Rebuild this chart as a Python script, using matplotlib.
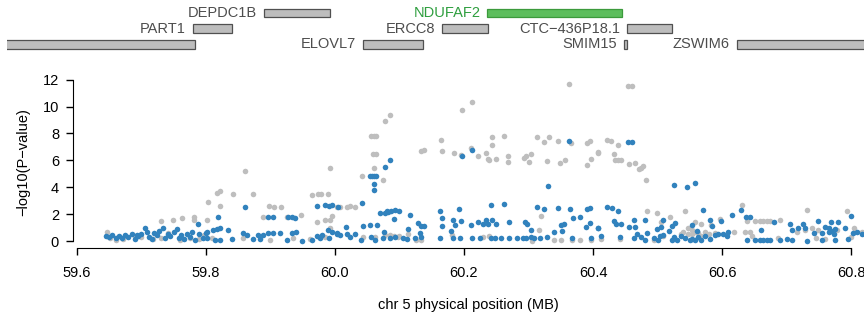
import numpy as np
import matplotlib
matplotlib.use("Agg")
import matplotlib.pyplot as plt
from matplotlib.patches import Rectangle

plt.rcParams["font.family"] = ["Liberation Sans", "DejaVu Sans"]

# genes in the locus (MB)
gene_names = ["DEPDC1B", "NDUFAF2", "PART1", "ERCC8", "CTC\u2212436P18.1",
              "PDE4D", "ELOVL7", "SMIM15", "ZSWIM6"]
gene_start = [59.890, 60.236, 59.780, 60.166, 60.453, 58.270, 60.043, 60.448, 60.623]
gene_end = [59.992, 60.445, 59.840, 60.237, 60.522, 59.783, 60.136, 60.453, 60.900]
gene_row = [0, 0, 1, 1, 1, 2, 2, 2, 2]
highlight = "NDUFAF2"

# marginal association (grey)
grey_pos = [
    59.647, 59.652, 59.660, 59.672, 59.690, 59.700, 59.718, 59.730, 59.742, 59.760,
    59.775, 59.790, 59.797, 59.730, 59.749, 59.763, 59.781, 59.781, 59.802, 59.803,
    59.817, 59.822, 59.822, 59.842, 59.860, 59.873, 59.888, 59.898, 59.905, 59.916,
    59.925, 59.947, 59.964, 59.974, 59.978, 59.989, 59.992, 59.972, 59.984, 59.992,
    59.995, 59.992, 59.810, 59.857, 59.900, 59.935, 59.962, 59.985,
    60.003, 60.008, 60.019, 60.023, 60.031, 60.042, 60.056, 60.060, 60.064, 60.059,
    60.064, 60.060, 60.074, 60.078, 60.085, 60.133, 60.138, 60.164, 60.166, 60.184,
    60.195, 60.197, 60.044, 60.062, 60.077, 60.085, 60.098, 60.113, 60.126, 60.134,
    60.181, 60.100, 60.092,
    60.363, 60.212, 60.243, 60.262, 60.243, 60.211, 60.222, 60.234, 60.237, 60.239,
    60.250, 60.268, 60.268, 60.293, 60.296, 60.304, 60.301, 60.313, 60.324, 60.332,
    60.346, 60.366, 60.329, 60.349, 60.357, 60.391, 60.395, 60.391, 60.397, 60.408,
    60.319, 60.316, 60.230, 60.238, 60.305, 60.340, 60.351, 60.368, 60.380, 60.397,
    60.454, 60.461, 60.421, 60.428, 60.439, 60.407, 60.432, 60.434, 60.439, 60.444,
    60.455, 60.465, 60.471, 60.474, 60.478, 60.482, 60.483, 60.499, 60.519, 60.542,
    60.506, 60.558, 60.568, 60.583, 60.597, 60.547, 60.554, 60.558, 60.563, 60.413,
    60.442, 60.494, 60.509, 60.537, 60.540, 60.547, 60.554, 60.567, 60.574, 60.579,
    60.589,
    60.631, 60.731, 60.793, 60.638, 60.651, 60.659, 60.664, 60.669, 60.674, 60.690,
    60.618, 60.636, 60.643, 60.716, 60.729, 60.739, 60.749, 60.778, 60.805, 60.817,
    60.646, 60.686, 60.745, 60.760, 60.800,
]
grey_logp = [
    0.70, 0.25, 0.10, 0.15, 0.35, 0.30, 0.15, 0.25, 0.60, 0.10,
    0.20, 0.15, 0.45, 1.50, 1.60, 1.70, 1.80, 1.60, 1.60, 2.90,
    3.60, 3.70, 2.60, 3.50, 5.20, 3.50, 1.80, 2.60, 2.50, 2.50,
    1.80, 1.90, 3.40, 3.50, 3.50, 3.50, 5.45, 1.40, 1.60, 1.60,
    1.85, 1.00, 0.25, 0.25, 0.10, 0.25, 0.15, 0.30,
    2.50, 2.50, 2.55, 2.60, 2.55, 4.85, 7.80, 7.80, 7.80, 6.50,
    6.50, 5.40, 4.55, 8.90, 9.40, 6.70, 6.80, 7.50, 6.70, 6.55,
    6.40, 9.75, 0.30, 0.30, 0.45, 0.45, 0.30, 0.55, 0.07, 0.05,
    0.45, 0.35, 0.40,
    11.70, 10.35, 7.75, 7.80, 7.15, 6.95, 6.30, 6.55, 6.10, 6.00,
    6.10, 6.30, 5.90, 6.20, 6.30, 6.50, 5.90, 7.70, 7.40, 7.70,
    7.45, 7.30, 5.95, 5.80, 6.00, 7.30, 7.45, 5.65, 6.10, 6.55,
    1.85, 0.80, 0.30, 0.40, 0.00, 0.05, 0.05, 0.05, 0.05, 0.05,
    11.55, 11.55, 7.50, 7.45, 7.15, 6.60, 6.50, 6.05, 6.00, 6.00,
    5.75, 5.80, 5.35, 5.45, 5.60, 4.55, 2.25, 2.05, 1.80, 2.25,
    1.45, 1.40, 1.25, 1.20, 1.65, 0.95, 0.80, 0.70, 0.60, 0.15,
    0.15, 0.05, 0.35, 0.50, 0.65, 0.50, 0.55, 0.40, 0.70, 0.55,
    0.60,
    2.65, 2.30, 2.20, 1.50, 1.50, 1.50, 1.50, 1.50, 1.50, 1.55,
    0.65, 0.65, 0.65, 0.65, 0.80, 0.95, 0.80, 0.80, 0.95, 0.65,
    0.35, 0.20, 0.25, 0.15, 0.30,
]

# conditioned on the predicted expression (blue)
blue_pos = [
    59.645, 59.650, 59.655, 59.660, 59.665, 59.670, 59.675, 59.680, 59.685, 59.690,
    59.695, 59.700, 59.705, 59.708, 59.712, 59.716, 59.720, 59.724, 59.728, 59.733,
    59.737, 59.741, 59.745, 59.750, 59.755, 59.758, 59.762, 59.766, 59.770, 59.775,
    59.779, 59.783, 59.788, 59.790, 59.795, 59.800, 59.693,
    59.819, 59.860, 59.896, 59.904, 59.927, 59.933, 59.938, 59.972, 59.984, 59.991,
    59.995, 60.005, 59.989, 59.995, 60.003, 59.972, 59.980, 59.991, 59.802, 59.811,
    59.817, 59.822, 59.834, 59.857, 59.864, 59.881, 59.888, 59.896, 59.904, 59.915,
    59.933, 59.940, 59.802, 59.814, 59.822, 59.840, 59.873, 59.884, 59.926, 59.949,
    59.964, 59.977,
    60.085, 60.078, 60.054, 60.057, 60.060, 60.064, 60.060, 60.060, 60.042, 60.070,
    60.078, 60.081, 60.082, 60.087, 60.093, 60.099, 60.091, 60.116, 60.163, 60.166,
    60.192, 60.183, 60.195, 60.186, 60.197, 60.129, 60.133, 60.138, 60.017, 60.043,
    60.054, 60.065, 60.113, 60.166, 60.180,
    60.003, 60.008, 60.018, 60.023, 60.031, 60.041, 60.056, 60.062, 60.076, 60.075,
    60.085, 60.093, 60.106, 60.111, 60.124, 60.132, 60.133, 60.163, 60.183, 60.194,
    60.212, 60.363, 60.330, 60.242, 60.262, 60.313, 60.324, 60.346, 60.364, 60.391,
    60.395, 60.369, 60.380, 60.211, 60.221, 60.230, 60.234, 60.237, 60.244, 60.249,
    60.269, 60.295, 60.297, 60.351, 60.355, 60.389, 60.395, 60.407, 60.304, 60.340,
    60.352,
    60.213, 60.225, 60.242, 60.248, 60.258, 60.269, 60.282, 60.292, 60.296, 60.304,
    60.308, 60.318, 60.328, 60.368, 60.397,
    60.454, 60.461, 60.526, 60.545, 60.558, 60.421, 60.429, 60.439, 60.571, 60.432,
    60.435, 60.443, 60.455, 60.464, 60.480, 60.509, 60.527, 60.581, 60.598, 60.407,
    60.465, 60.499, 60.505, 60.518, 60.522, 60.554, 60.561, 60.584,
    60.413, 60.442, 60.464, 60.468, 60.475, 60.481, 60.483, 60.494, 60.501, 60.504,
    60.509, 60.522, 60.525, 60.530, 60.536, 60.543, 60.551, 60.554, 60.558, 60.563,
    60.567, 60.574, 60.581, 60.589, 60.594, 60.602, 60.607,
    60.630, 60.800, 60.615, 60.637, 60.643, 60.681, 60.705, 60.726, 60.748, 60.769,
    60.780, 60.717, 60.729, 60.759, 60.765, 60.769, 60.775, 60.791, 60.609, 60.661,
    60.708, 60.742, 60.755, 60.765, 60.773, 60.809,
    60.638, 60.651, 60.659, 60.664, 60.669, 60.674, 60.690, 60.700, 60.708, 60.731,
    60.755, 60.775, 60.795, 60.803, 60.817,
]
blue_logp = [
    0.35, 0.30, 0.42, 0.25, 0.38, 0.20, 0.45, 0.33, 0.50, 0.15,
    0.40, 0.55, 0.97, 0.70, 0.30, 0.12, 0.60, 0.45, 0.75, 1.00,
    0.20, 0.50, 0.35, 0.65, 0.90, 0.25, 0.45, 0.15, 0.55, 0.30,
    0.70, 0.10, 1.30, 0.50, 0.22, 0.60, 0.45,
    1.80, 2.50, 1.80, 1.80, 1.80, 1.80, 1.70, 2.60, 2.70, 2.60,
    2.70, 2.50, 0.80, 0.70, 0.60, 0.37, 0.45, 0.22, 0.65, 0.80,
    0.90, 1.00, 0.80, 0.60, 0.45, 0.45, 0.45, 0.60, 0.60, 0.60,
    0.60, 0.70, 0.20, 0.08, 0.08, 0.15, 0.15, 0.15, 0.08, 0.00,
    0.08, 0.20,
    6.00, 5.50, 4.80, 4.80, 4.80, 4.80, 4.25, 3.80, 2.80, 2.10,
    2.10, 2.25, 2.15, 2.25, 2.30, 2.20, 1.65, 1.90, 2.20, 1.70,
    2.40, 1.55, 1.50, 1.20, 6.30, 1.35, 1.10, 1.10, 1.05, 1.10,
    1.20, 1.20, 0.90, 1.10, 0.75,
    0.55, 0.45, 0.50, 0.30, 0.55, 0.07, 0.30, 0.07, 0.70, 0.20,
    0.20, 0.30, 0.20, 0.15, 0.20, 0.60, 0.30, 0.20, 0.20, 0.20,
    6.80, 7.45, 4.10, 2.70, 2.75, 2.50, 2.40, 2.45, 2.40, 2.40,
    2.45, 1.70, 1.80, 1.20, 1.45, 1.25, 1.60, 1.30, 1.55, 1.30,
    1.45, 1.45, 1.30, 1.20, 1.30, 1.05, 1.35, 0.95, 0.80, 0.70,
    0.75,
    0.20, 0.20, 0.20, 0.20, 0.20, 0.25, 0.20, 0.20, 0.20, 0.30,
    0.20, 0.25, 0.30, 0.25, 0.25,
    7.35, 7.35, 4.15, 4.05, 4.30, 2.50, 2.45, 2.25, 2.30, 1.50,
    1.30, 1.30, 1.05, 1.60, 1.55, 1.60, 1.35, 1.60, 1.50, 0.95,
    1.05, 0.90, 1.05, 0.75, 1.15, 1.20, 0.75, 1.15,
    0.40, 0.30, 0.20, 0.50, 0.30, 0.05, 0.60, 0.25, 0.05, 0.35,
    0.45, 0.10, 0.30, 0.05, 0.40, 0.25, 0.05, 0.15, 0.10, 0.30,
    0.05, 0.35, 0.15, 0.45, 0.50, 0.55, 0.40,
    2.30, 1.85, 1.90, 1.80, 1.80, 1.45, 1.25, 1.30, 1.50, 1.40,
    1.40, 1.00, 0.95, 1.05, 0.95, 0.75, 0.90, 1.00, 0.65, 0.80,
    0.80, 0.60, 0.60, 0.65, 0.55, 0.65,
    0.10, 0.10, 0.10, 0.10, 0.10, 0.10, 0.10, 0.15, 0.10, 0.00,
    0.10, 0.10, 0.15, 0.60, 0.55,
]

xticks = [59.6, 59.8, 60.0, 60.2, 60.4, 60.6, 60.8]
yticks = [0, 2, 4, 6, 8, 10, 12]

W, H = 864, 322
fig = plt.figure(figsize=(W / 100, H / 100), dpi=100)

x0, x1 = 59.594, 60.820
ax = fig.add_axes([73 / W, (H - 248) / H, 1 - 73 / W, (248 - 77) / H])
ax.scatter(grey_pos, grey_logp, s=16, color="#BEBEBE", linewidths=0, zorder=2)
ax.scatter(blue_pos, blue_logp, s=16, color="#3182BD", linewidths=0, zorder=3)
ax.set_xlim(x0, x1)
ax.set_ylim(-0.52, 12.2)
for s in ["top", "right"]:
    ax.spines[s].set_visible(False)
ax.spines["left"].set_bounds(0, 12)
ax.spines["bottom"].set_bounds(59.6, 60.8)
ax.set_xticks(xticks)
ax.set_xticklabels([f"{t:.1f}" for t in xticks])
ax.set_yticks(yticks)
ax.tick_params(axis="both", labelsize=10.5, length=5, width=1)
ax.tick_params(axis="x", pad=8)
ax.tick_params(axis="y", pad=5)
ax.set_xlabel("chr 5 physical position (MB)", fontsize=10.5, labelpad=13)
ax.set_ylabel("\u2212log10(P\u2212value)", fontsize=10.5, labelpad=9)

# gene track, same MB scale, starts further left
gl = 59.594 - 66 / 645
gax = fig.add_axes([7 / W, (H - 55) / H, 1 - 7 / W, 55 / H])
gax.set_xlim(gl, x1)
gax.set_ylim(2.667, -0.825)
gax.axis("off")
for name, st, en, row in zip(gene_names, gene_start, gene_end, gene_row):
    hl = name == highlight
    fc = "#5DBE5D" if hl else "#BDBDBD"
    ec = "#3C9A3C" if hl else "#505050"
    gax.add_patch(Rectangle((st, row - 0.27), en - st, 0.54, facecolor=fc,
                            edgecolor=ec, linewidth=0.9))
    if st > gl:
        gax.annotate(name, (st, row), xytext=(-5, 0), textcoords="offset points",
                     ha="right", va="center", fontsize=10.5,
                     color="#2E9E3E" if hl else "#4D4D4D")

fig.savefig("out.png", dpi=100)
